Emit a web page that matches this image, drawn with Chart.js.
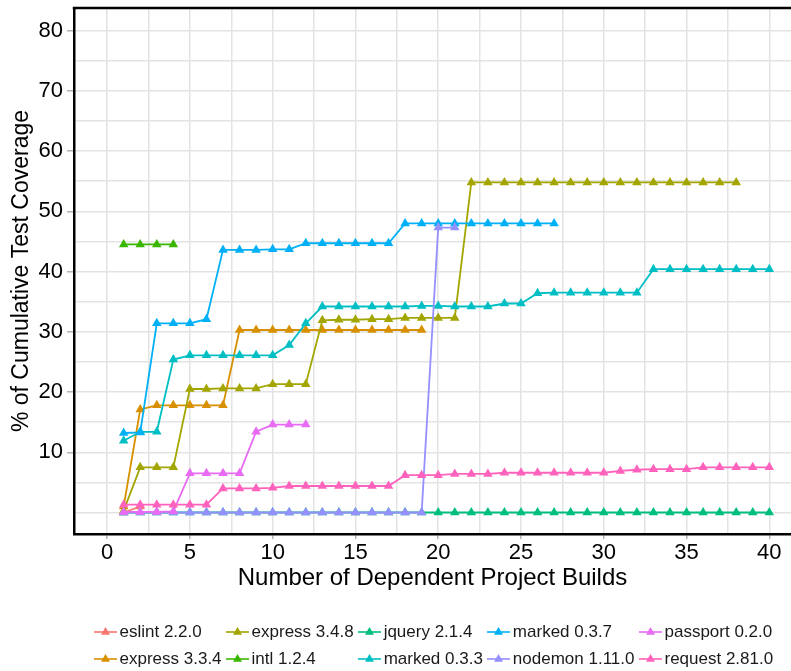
<!DOCTYPE html>
<html>
<head>
<meta charset="utf-8">
<script src="https://cdn.jsdelivr.net/npm/chart.js@4.4.1/dist/chart.umd.min.js"></script>
<style>
  html, body { margin: 0; padding: 0; background: #ffffff; }
  #wrap { position: relative; width: 791px; height: 671px; overflow: hidden; }
  #chart { position: absolute; left: 0; top: 0; }
  #legend {
    position: absolute; left: 94px; top: 618px;
    display: grid; grid-template-rows: 27px 27px; grid-auto-flow: column;
    grid-auto-columns: max-content; column-gap: 4.5px;
    font-family: "Liberation Sans", Arial, sans-serif; font-size: 17px; color: #1a1a1a;
  }
  .item { display: flex; align-items: center; white-space: nowrap; }
  .item svg { margin-right: 2.5px; flex: none; }
</style>
</head>
<body>
<div id="wrap">
  <canvas id="chart" width="791" height="671"></canvas>
  <div id="legend"></div>
</div>
<script>
// Package releases, in legend order
const seriesNames = [
  'eslint 2.2.0', 'express 3.3.4', 'express 3.4.8', 'intl 1.2.4', 'jquery 2.1.4',
  'marked 0.3.3', 'marked 0.3.7', 'nodemon 1.11.0', 'passport 0.2.0', 'request 2.81.0'
];
const seriesColors = [
  '#F8766D', '#D89000', '#A3A500', '#39B600', '#00BF7D',
  '#00BFC4', '#00B0F6', '#9590FF', '#E76BF3', '#FF62BC'
];

// Cumulative test coverage (%) after each dependent project build (build 1, 2, 3, ...)
const eslint220 = [0.0, 1.0];
const express334 = [1.0, 17.1, 17.8, 17.8, 17.8, 17.8, 17.8, 30.3, 30.3, 30.3,
  30.3, 30.3, 30.3, 30.3, 30.3, 30.3, 30.3, 30.3, 30.3];
const express348 = [0.3, 7.5, 7.5, 7.5, 20.5, 20.5, 20.6, 20.6, 20.6, 21.3,
  21.3, 21.3, 31.9, 32.0, 32.0, 32.1, 32.1, 32.3, 32.3, 32.3,
  32.3, 54.8, 54.8, 54.8, 54.8, 54.8, 54.8, 54.8, 54.8, 54.8,
  54.8, 54.8, 54.8, 54.8, 54.8, 54.8, 54.8, 54.8];
const intl124 = [44.5, 44.5, 44.5, 44.5];
const jquery214 = [0, 0, 0, 0, 0, 0, 0, 0, 0, 0, 0, 0, 0, 0, 0, 0, 0, 0, 0, 0,
  0, 0, 0, 0, 0, 0, 0, 0, 0, 0, 0, 0, 0, 0, 0, 0, 0, 0, 0, 0];
const marked033 = [11.9, 13.4, 13.4, 25.4, 26.1, 26.1, 26.1, 26.1, 26.1, 26.1,
  27.8, 31.4, 34.2, 34.2, 34.2, 34.2, 34.2, 34.2, 34.3, 34.3,
  34.2, 34.2, 34.2, 34.7, 34.7, 36.4, 36.5, 36.5, 36.5, 36.5,
  36.5, 36.5, 40.4, 40.4, 40.4, 40.4, 40.4, 40.4, 40.4, 40.4];
const marked037 = [13.2, 13.3, 31.4, 31.4, 31.4, 32.1, 43.6, 43.6, 43.6, 43.7,
  43.7, 44.7, 44.7, 44.7, 44.7, 44.7, 44.7, 48.0, 48.0, 48.0,
  48.0, 48.0, 48.0, 48.0, 48.0, 48.0, 48.0];
const nodemon1110 = [0, 0, 0, 0, 0, 0, 0, 0, 0, 0, 0, 0, 0, 0, 0, 0, 0, 0, 0, 47.3, 47.3];
const passport020 = [0.1, 0.1, 0.1, 0.2, 6.5, 6.5, 6.5, 6.5, 13.4, 14.6, 14.6, 14.6];
const request2810 = [1.3, 1.3, 1.3, 1.3, 1.3, 1.3, 4.0, 4.0, 4.0, 4.1,
  4.4, 4.4, 4.4, 4.4, 4.4, 4.4, 4.4, 6.2, 6.2, 6.2,
  6.4, 6.4, 6.4, 6.6, 6.6, 6.6, 6.6, 6.6, 6.6, 6.6,
  6.9, 7.1, 7.2, 7.2, 7.2, 7.5, 7.5, 7.5, 7.5, 7.5];

const seriesValues = [eslint220, express334, express348, intl124, jquery214,
  marked033, marked037, nodemon1110, passport020, request2810];

// Axis breaks: labelled major breaks plus unlabelled minor ones in between
const xBreaks = [0, 2.5, 5, 7.5, 10, 12.5, 15, 17.5, 20, 22.5, 25, 27.5, 30, 32.5, 35, 37.5, 40];
const xTickLabels = ['0', '5', '10', '15', '20', '25', '30', '35', '40'];
const yBreaks = [0, 5, 10, 15, 20, 25, 30, 35, 40, 45, 50, 55, 60, 65, 70, 75, 80];
const yTickLabels = ['10', '20', '30', '40', '50', '60', '70', '80'];

const FONT = '"Liberation Sans", Arial, sans-serif';
const N = seriesNames.length;

const datasets = seriesValues.map((vals, i) => ({
  label: seriesNames[i],
  data: vals.map((v, k) => ({ x: k + 1, y: v })),
  borderColor: seriesColors[i],
  backgroundColor: seriesColors[i],
  borderWidth: 1.8,
  pointStyle: 'triangle',
  pointRadius: 5.5,
  pointBorderWidth: 0,
  tension: 0,
  order: N - i
}));

const isLabelledX = v => xTickLabels.includes(String(v));
const isLabelledY = v => yTickLabels.includes(String(v));

// Black line along the top of the plot panel
const topBorder = {
  id: 'topBorder',
  afterDraw(chart) {
    const { ctx, chartArea } = chart;
    ctx.save();
    ctx.strokeStyle = '#000000';
    ctx.lineWidth = 2.5;
    ctx.beginPath();
    ctx.moveTo(chartArea.left - 1.25, chartArea.top);
    ctx.lineTo(chartArea.right, chartArea.top);
    ctx.stroke();
    ctx.restore();
  }
};

new Chart(document.getElementById('chart'), {
  type: 'line',
  data: { datasets },
  plugins: [topBorder],
  options: {
    responsive: false,
    animation: false,
    devicePixelRatio: 1,
    layout: { autoPadding: false, padding: { left: 0, right: 0, top: 8, bottom: 0 } },
    plugins: { legend: { display: false }, tooltip: { enabled: false } },
    scales: {
      x: {
        type: 'linear',
        min: -2.0,
        max: 41.31,
        afterBuildTicks(scale) { scale.ticks = xBreaks.map(v => ({ value: v })); },
        afterFit(scale) { scale.height = 137; scale.paddingLeft = 0; scale.paddingRight = 0; },
        grid: {
          color: '#e3e3e3',
          lineWidth: 1.5,
          drawTicks: true,
          tickLength: 5,
          tickWidth: 1.5,
          tickColor: ctx => isLabelledX(ctx.tick.value) ? '#b3b3b3' : 'rgba(0,0,0,0)'
        },
        border: { display: true, color: '#000000', width: 2.5 },
        ticks: {
          padding: 1,
          color: '#000000',
          font: { family: FONT, size: 22 },
          maxRotation: 0,
          autoSkip: false,
          callback: v => isLabelledX(v) ? String(v) : ''
        },
        title: {
          display: true,
          text: 'Number of Dependent Project Builds',
          color: '#000000',
          font: { family: FONT, size: 24 },
          padding: { top: 0, bottom: 78 }
        }
      },
      y: {
        type: 'linear',
        min: -3.57,
        max: 83.76,
        afterBuildTicks(scale) { scale.ticks = yBreaks.map(v => ({ value: v })); },
        afterFit(scale) { scale.width = 74; scale.paddingTop = 0; scale.paddingBottom = 0; },
        grid: {
          color: '#e3e3e3',
          lineWidth: 1.5,
          drawTicks: true,
          tickLength: 7,
          tickWidth: 1.5,
          tickColor: ctx => isLabelledY(ctx.tick.value) ? '#b3b3b3' : 'rgba(0,0,0,0)'
        },
        border: { display: true, color: '#000000', width: 2.5 },
        ticks: {
          padding: 4,
          color: '#000000',
          font: { family: FONT, size: 22 },
          autoSkip: false,
          callback: v => isLabelledY(v) ? String(v) : ''
        },
        title: {
          display: true,
          text: '% of Cumulative Test Coverage',
          color: '#000000',
          font: { family: FONT, size: 23 },
          padding: { top: 8, bottom: 0 }
        }
      }
    }
  }
});

// Legend laid out in two rows, filled column by column
const legend = document.getElementById('legend');
seriesNames.forEach((name, i) => {
  const item = document.createElement('div');
  item.className = 'item';
  const c = seriesColors[i];
  item.innerHTML =
    '<svg width="23" height="14" viewBox="0 0 23 14">' +
    '<line x1="0" y1="7" x2="23" y2="7" stroke="' + c + '" stroke-width="1.6"/>' +
    '<polygon points="11.5,2 16,9.8 7,9.8" fill="' + c + '"/></svg>' +
    '<span></span>';
  item.querySelector('span').textContent = name;
  legend.appendChild(item);
});
</script>
</body>
</html>
